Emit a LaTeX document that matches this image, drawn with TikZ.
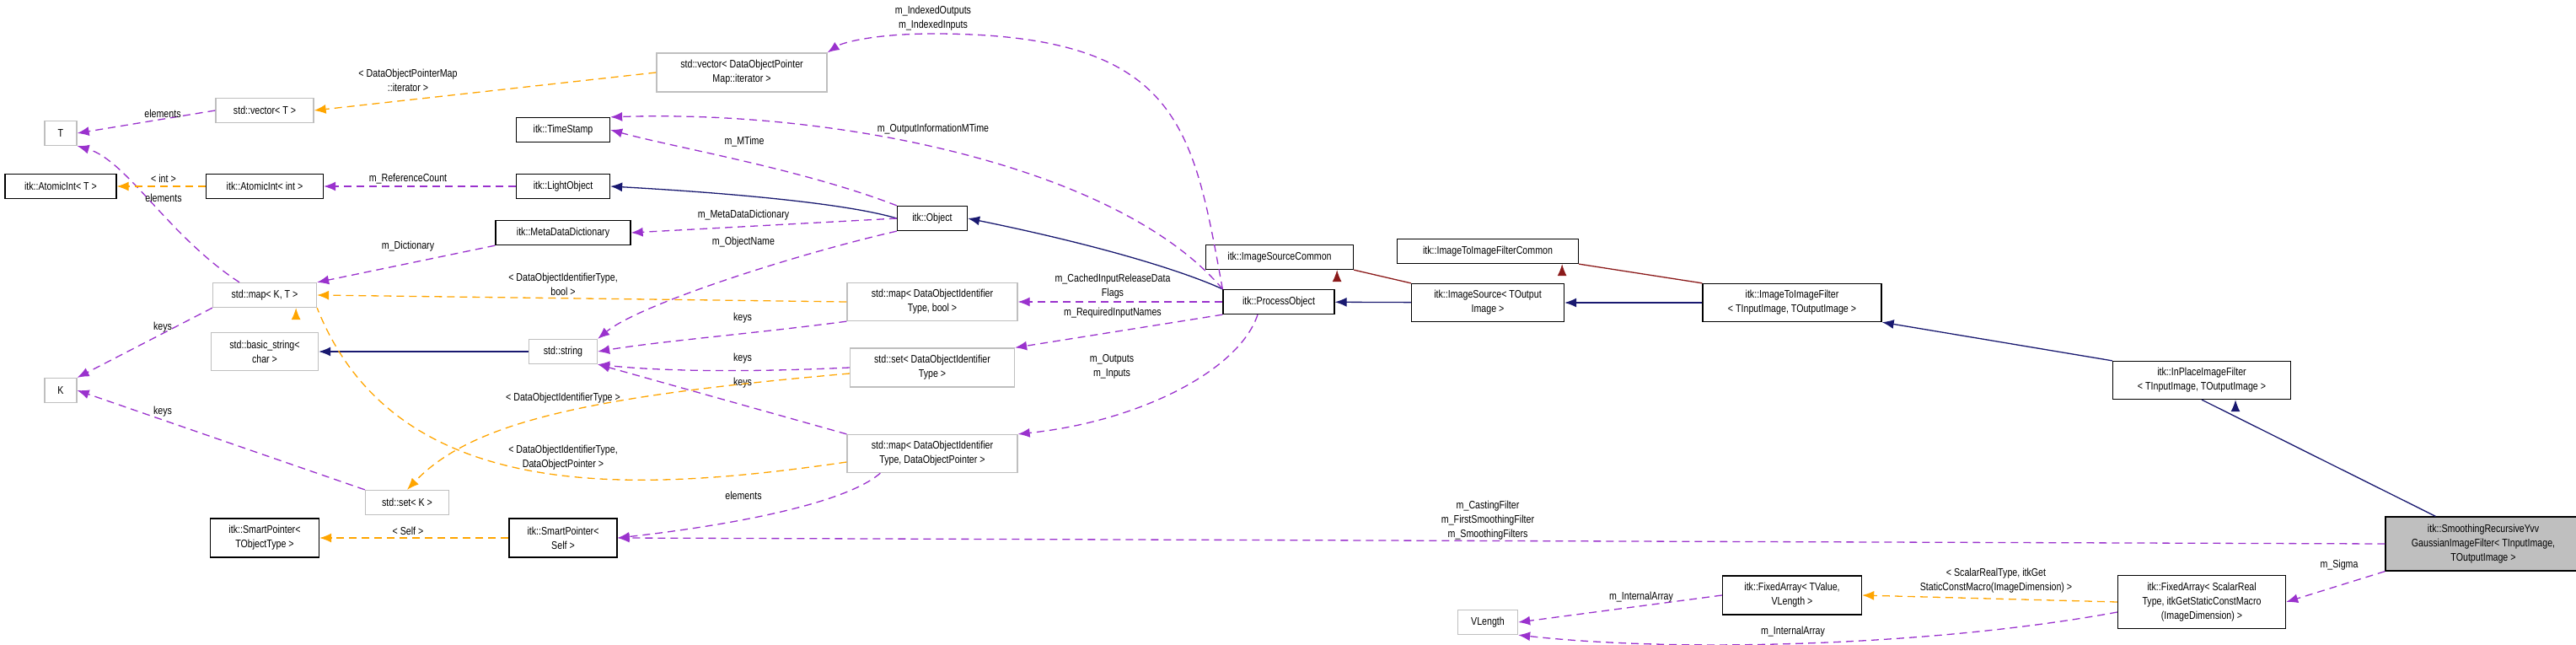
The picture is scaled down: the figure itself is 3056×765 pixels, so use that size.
\documentclass[tikz,border=0pt]{standalone}
\usepackage{fontspec}
\setmainfont{Liberation Sans}[FakeStretch=0.82]
\usetikzlibrary{arrows.meta}

\definecolor{usecol}{HTML}{9A32CD}
\definecolor{tplcol}{HTML}{FFA500}
\definecolor{inhcol}{HTML}{191970}
\definecolor{prvcol}{HTML}{8B1A1A}

\tikzset{
    box/.style={draw=black, line width=1.3pt, fill=white, inner sep=0pt, align=center,
        font=\fontsize{13}{17}\selectfont, minimum height=29pt},
    gbox/.style={box, draw=black!25},
    lbl/.style={align=center, font=\fontsize{13}{17}\selectfont},
    tip/.style={-{Latex[length=14pt,width=11pt]}},
    use/.style={tip, usecol, dashed, dash pattern=on 9pt off 6pt, line width=1.3pt},
    tpl/.style={tip, tplcol, dashed, dash pattern=on 9pt off 6pt, line width=1.3pt},
    inh/.style={tip, inhcol, line width=1.3pt},
    prv/.style={tip, prvcol, line width=1.3pt}
}

\begin{document}
\begin{tikzpicture}[x=1pt, y=-1pt]
    \useasboundingbox (0,0) rectangle (3056,765);
    % left column
    \node[gbox, minimum width=38pt] (tT) at (72,158) {T};
    \node[box, minimum width=132pt] (aiT) at (72,221) {itk::AtomicInt< T >};
    \node[gbox, minimum width=38pt] (kK) at (72,463) {K};
    % second column
    \node[gbox, minimum width=116pt] (vecT) at (314,131) {std::vector< T >};
    \node[box, minimum width=139pt] (aiInt) at (314,221) {itk::AtomicInt< int >};
    \node[gbox, minimum width=123pt] (mapKT) at (314,350) {std::map< K, T >};
    \node[gbox, minimum width=127pt, minimum height=45pt] (bstr) at (314,417) {std::basic\_string<\\char >};
    \node[box, minimum width=129pt, minimum height=46pt] (spT) at (314,638) {itk::SmartPointer<\\TObjectType >};
    \node[gbox, minimum width=99pt] (setK) at (483,596) {std::set< K >};
    % third column
    \node[box, minimum width=111pt] (ts) at (668,154) {itk::TimeStamp};
    \node[box, minimum width=111pt] (lo) at (668,221) {itk::LightObject};
    \node[box, minimum width=160pt] (mdd) at (668,276) {itk::MetaDataDictionary};
    \node[gbox, minimum width=81pt] (str) at (668,417) {std::string};
    \node[box, minimum width=128pt, minimum height=46pt] (spS) at (668,638) {itk::SmartPointer<\\Self >};
    % fourth column
    \node[gbox, minimum width=202pt, minimum height=46pt] (vecDOP) at (880,86) {std::vector< DataObjectPointer\\Map::iterator >};
    \node[box, minimum width=83pt] (obj) at (1106,259) {itk::Object};
    \node[gbox, minimum width=202pt, minimum height=45pt] (mapDOIb) at (1106,358) {std::map< DataObjectIdentifier\\Type, bool >};
    \node[gbox, minimum width=195pt, minimum height=46pt] (setDOI) at (1106,436) {std::set< DataObjectIdentifier\\Type >};
    \node[gbox, minimum width=202pt, minimum height=45pt] (mapDOP) at (1106,538) {std::map< DataObjectIdentifier\\Type, DataObjectPointer >};
    % pipeline classes
    \node[box, minimum width=175pt] (isc) at (1518,305) {itk::ImageSourceCommon};
    \node[box, minimum width=132pt] (po) at (1517,358) {itk::ProcessObject};
    \node[box, minimum width=215pt] (itifc) at (1765,298) {itk::ImageToImageFilterCommon};
    \node[box, minimum width=181pt, minimum height=45pt] (isrc) at (1765,359) {itk::ImageSource< TOutput\\Image >};
    \node[box, minimum width=212pt, minimum height=45pt] (itif) at (2126,359) {itk::ImageToImageFilter\\< TInputImage, TOutputImage >};
    \node[box, minimum width=211pt, minimum height=45pt] (ipf) at (2612,451) {itk::InPlaceImageFilter\\< TInputImage, TOutputImage >};
    \node[box, fill=black!25, minimum width=232pt, minimum height=64pt] (srg) at (2946,645) {itk::SmoothingRecursiveYvv\\GaussianImageFilter< TInputImage,\\TOutputImage >};
    \node[box, minimum width=199pt, minimum height=63pt] (faS) at (2612,714) {itk::FixedArray< ScalarReal\\Type, itkGetStaticConstMacro\\(ImageDimension) >};
    \node[box, minimum width=165pt, minimum height=46pt] (faV) at (2126,706) {itk::FixedArray< TValue,\\VLength >};
    \node[gbox, minimum width=71pt] (vlen) at (1765,738) {VLength};

    % inheritance
    \draw[inh] (str) -- (bstr);
    \draw[inh] (obj.west) .. controls (1000,240) and (850,228) .. (lo.east);
    \draw[inh] (po.north west) .. controls (1400,320) and (1300,290) .. (obj.east);
    \draw[inh] (isrc) -- (po);
    \draw[inh] (itif) -- (isrc);
    \draw[inh] (ipf.north west) -- (itif.south east);
    \draw[inh] (srg.north west) ++(60,0) -- (ipf.south) ++(40,0);
    \draw[prv] (isrc.north west) -- (isc.south east) ++(-20,0);
    \draw[prv] (itif.north west) -- (itifc.south east) ++(-20,0);

    % members
    \draw[use] (vecT.west) -- (tT.east);
    \node[lbl] at (193,135) {elements};
    \draw[use] (mapKT.north) ++(-30,0) .. controls (200,280) and (150,190) .. (tT.south east);
    \node[lbl] at (194,235) {elements};
    \draw[use] (lo) -- (aiInt);
    \node[lbl] at (484,212) {m\_ReferenceCount};
    \draw[use] (obj.north west) .. controls (950,200) and (800,175) .. (ts.east);
    \node[lbl] at (883,168) {m\_MTime};
    \draw[use] (po.north west) .. controls (1330,200) and (1000,130) .. (ts.north east);
    \node[lbl] at (1107,153) {m\_OutputInformationMTime};
    \draw[use] (obj.west) -- (mdd.east);
    \node[lbl] at (882,255) {m\_MetaDataDictionary};
    \draw[use] (mdd.south west) -- (mapKT.north east);
    \node[lbl] at (484,292) {m\_Dictionary};
    \draw[use] (obj.south west) .. controls (950,300) and (760,360) .. (str.north east);
    \node[lbl] at (882,287) {m\_ObjectName};
    \draw[use] (po.north west) .. controls (1415,150) and (1400,40) .. (1107,40) .. controls (1040,40) and (1000,50) .. (vecDOP.north east);
    \node[lbl] at (1107,22) {m\_IndexedOutputs\\m\_IndexedInputs};
    \draw[use] (po.west) -- (mapDOIb.east);
    \node[lbl] at (1320,340) {m\_CachedInputReleaseData\\Flags};
    \draw[use] (po.south west) -- (setDOI.north east);
    \node[lbl] at (1320,371) {m\_RequiredInputNames};
    \draw[use] (po.south) ++(-25,0) .. controls (1470,440) and (1350,500) .. (mapDOP.north east);
    \node[lbl] at (1319,435) {m\_Outputs\\m\_Inputs};
    \draw[use] (mapDOIb.south west) .. controls (900,395) and (780,405) .. (str.east);
    \node[lbl] at (881,377) {keys};
    \draw[use] (setDOI.west) .. controls (880,442) and (780,440) .. (str.south east);
    \node[lbl] at (881,425) {keys};
    \draw[use] (mapDOP.north west) -- (str.south east);
    \node[lbl] at (881,454) {keys};
    \draw[use] (mapKT.south west) -- (kK.north east);
    \node[lbl] at (193,388) {keys};
    \draw[use] (setK.north west) -- (kK.east);
    \node[lbl] at (193,488) {keys};
    \draw[use] (mapDOP.south west) ++(40,0) .. controls (1000,600) and (850,625) .. (spS.east);
    \node[lbl] at (882,588) {elements};
    \draw[use] (srg.west) -- (spS.east);
    \node[lbl] at (1765,617) {m\_CastingFilter\\m\_FirstSmoothingFilter\\m\_SmoothingFilters};
    \draw[use] (srg.south west) -- (faS.east);
    \node[lbl] at (2775,670) {m\_Sigma};
    \draw[use] (faV.west) -- (vlen.east);
    \node[lbl] at (1947,708) {m\_InternalArray};
    \draw[use] (faS.west) ++(0,12) .. controls (2300,765) and (2000,775) .. (vlen.south east);
    \node[lbl] at (2127,749) {m\_InternalArray};

    % template instances
    \draw[tpl] (vecDOP.west) -- (vecT.east);
    \node[lbl] at (484,95) {< DataObjectPointerMap\\::iterator >};
    \draw[tpl] (aiInt) -- (aiT);
    \node[lbl] at (194,212) {< int >};
    \draw[tpl] (mapDOIb.west) -- (mapKT.east);
    \node[lbl] at (668,337) {< DataObjectIdentifierType,\\bool >};
    \draw[tpl] (mapDOP.west) ++(0,10) .. controls (750,585) and (470,600) .. (mapKT.south east) ++(-25,0);
    \node[lbl] at (668,543) {< DataObjectIdentifierType,\\DataObjectPointer >};
    \draw[tpl] (setDOI.west) ++(0,7) .. controls (700,470) and (560,500) .. (setK.north);
    \node[lbl] at (668,472) {< DataObjectIdentifierType >};
    \draw[tpl] (spS) -- (spT);
    \node[lbl] at (484,630) {< Self >};
    \draw[tpl] (faS.west) -- (faV.east);
    \node[lbl] at (2368,689) {< ScalarRealType, itkGet\\StaticConstMacro(ImageDimension) >};
\end{tikzpicture}
\end{document}
